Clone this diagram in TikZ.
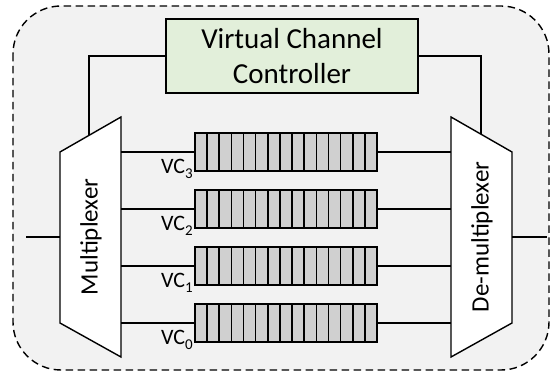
\documentclass[tikz,border=0pt]{standalone}
\usepackage{fontspec}
\setmainfont{Carlito}
\definecolor{bggray}{HTML}{F2F2F2}
\definecolor{ctrlgreen}{HTML}{E2EFDA}
\definecolor{qgray}{HTML}{D0D0D0}
\newcommand{\vcsub}[1]{\raisebox{-4.5pt}{\fontsize{15}{18}\selectfont #1}}
\tikzset{
  wire/.style={line width=1.4pt},
  muxbox/.style={draw, fill=white, line width=1.4pt},
  cell/.style={draw, fill=qgray, line width=1.6pt},
  qnode/.style={minimum width=182pt, minimum height=38pt, inner sep=0pt},
  vclabel/.style={anchor=base east, inner sep=0pt, font=\fontsize{22}{26}\selectfont},
  muxtext/.style={rotate=90, inner sep=0pt, font=\fontsize{25}{30}\selectfont}
}
\begin{document}
\begin{tikzpicture}[x=1pt,y=-1pt]
\useasboundingbox (0,0) rectangle (550,374);
% outer dashed region
\draw[fill=bggray, line width=1.4pt, dash pattern=on 7.5pt off 4.5pt, rounded corners=48pt] (13,6) rectangle (549,370);

% controller
\node[draw, fill=ctrlgreen, line width=1.2pt, minimum width=252pt, minimum height=74pt, inner sep=0pt, align=center, font=\fontsize{29}{35}\selectfont] (ctrl) at (292,56) {Virtual Channel\\Controller};

% multiplexer
\draw[muxbox] (60,152) -- (121,117) -- (121,357) -- (60,323) -- cycle;
\node[muxtext] (muxlabel) at (91,237) {Multiplexer};
% de-multiplexer
\draw[muxbox] (451,117) -- (512,152) -- (512,323) -- (451,357) -- cycle;
\node[muxtext] (demuxlabel) at (482,237) {De-multiplexer};

% coordinates on the mux edges
\coordinate (muxin) at (60,237);
\coordinate (demuxout) at (512,237);
\coordinate (inend) at (26,237);
\coordinate (outend) at (547,237);
\coordinate (muxtop) at (89,135);
\coordinate (demuxtop) at (481,134);

\draw[wire] (inend) -- (muxin);
\draw[wire] (demuxout) -- (outend);
\draw[wire] (ctrl.west) -| (muxtop);
\draw[wire] (ctrl.east) -| (demuxtop);

% queues
\foreach \i/\yc in {3/152, 2/209, 1/266, 0/323} {
  \coordinate (m\i) at (121,\yc);
  \coordinate (d\i) at (451,\yc);
  \node[qnode] (q\i) at (286,\yc) {};
  \foreach \k in {0,...,14} {
    \draw[cell] (195+\k*12.133,\yc-19) rectangle ++(12.133,38);
  }
  \draw[wire] (m\i) -- (q\i.west);
  \draw[wire] (q\i.east) -- (d\i);
  \node[vclabel] (l\i) at (193,\yc+22) {VC\vcsub{\i}};
}
\end{tikzpicture}
\end{document}
